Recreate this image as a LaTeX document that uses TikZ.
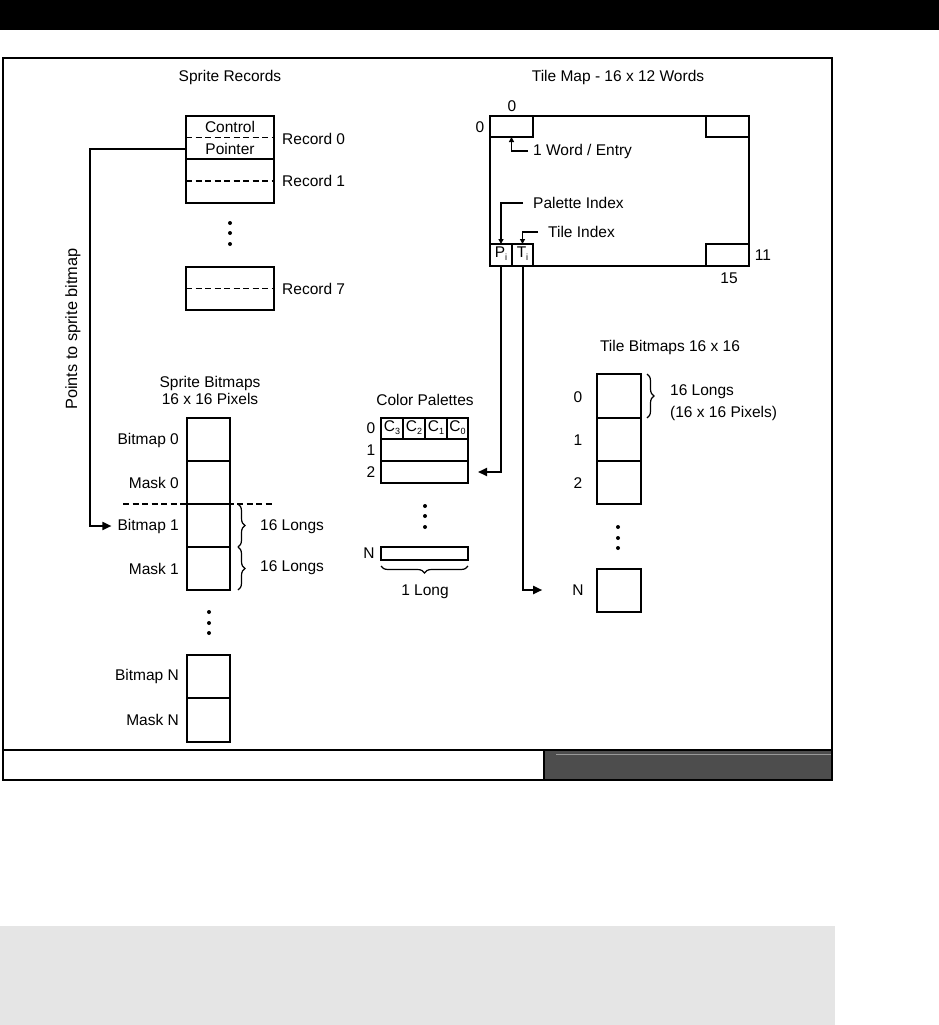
\documentclass[tikz,border=0pt]{standalone}
\usepackage{fontspec}
\setmainfont{Liberation Sans}
\usetikzlibrary{arrows.meta,decorations.pathreplacing,calc}
\definecolor{darkbox}{HTML}{4D4D4D}
\definecolor{lightline}{HTML}{9A9A9A}
\definecolor{bandgray}{HTML}{E5E5E5}
\newcommand\sbs[1]{\raisebox{-3pt}{\fontsize{9}{9}\selectfont #1}}
\newcommand\cellat[5]{\node[cellbox, minimum width=#4pt, minimum height=#5pt] (#1) at (#2,#3) {};}
\tikzset{
  lbl/.style={font=\fontsize{15.5}{17}\selectfont, inner sep=0pt},
  cellbox/.style={draw, line width=1.8pt, anchor=north west, inner sep=0pt, outer sep=0pt},
  dline/.style={line width=1.2pt, dash pattern=on 6pt off 3.5pt},
  conn/.style={line width=1.8pt, -{Triangle[length=9pt,width=8pt]}},
  sconn/.style={line width=1.6pt, -{Triangle[length=5pt,width=5pt]}},
  dotc/.style={circle, fill, inner sep=0pt, minimum size=4pt},
  bracestyle/.style={decorate, decoration={brace, amplitude=7pt}, line width=1.2pt},
}
\begin{document}
\begin{tikzpicture}[x=1pt,y=-1pt]
\useasboundingbox (0,0) rectangle (939,1025);
% page furniture
\fill[black] (0,0) rectangle (939,30);
\fill[bandgray] (0,926) rectangle (835,1025);
\fill[darkbox] (544,750) rectangle (832,780);
\draw[lightline, line width=1pt] (556,754) -- (832,754);
\draw[line width=2.2pt] (3,58) rectangle (832,780);
\draw[line width=2.2pt] (3,750) -- (832,750);
\draw[line width=1.8pt] (544,750) -- (544,780);

% ---------------- Sprite records
\node[lbl] (srtitle) at (230,77) {Sprite Records};
\cellat{rec0}{186}{116}{88}{43}
\cellat{rec1}{186}{159}{88}{44}
\cellat{rec7}{186}{267}{88}{43}
\draw[dline] (rec0.west) -- (rec0.east);
\draw[dline] (rec1.west) -- (rec1.east);
\draw[dline] (rec7.west) -- (rec7.east);
\node[lbl] (ctl) at (230,127) {Control};
\node[lbl] (ptr) at (230,149) {Pointer};
\node[lbl, anchor=west] (rl0) at (282,139) {Record 0};
\node[lbl, anchor=west] (rl1) at (282,181) {Record 1};
\node[lbl, anchor=west] (rl7) at (282,289) {Record 7};
\node[dotc] (srd1) at (230,223) {};
\node[dotc] (srd2) at (230,233) {};
\node[dotc] (srd3) at (230,244) {};

% ---------------- Sprite bitmaps
\node[lbl, align=center] (sbtitle) at (210,390) {Sprite Bitmaps\\16 x 16 Pixels};
\cellat{bm0}{187}{418}{43}{43}
\cellat{mk0}{187}{461}{43}{43}
\cellat{bm1}{187}{504}{43}{43}
\cellat{mk1}{187}{547}{43}{43}
\cellat{bmN}{187}{655}{43}{43}
\cellat{mkN}{187}{698}{43}{44}
\node[lbl, anchor=east] (lbm0) at (179,440) {Bitmap 0};
\node[lbl, anchor=east] (lmk0) at (179,483) {Mask 0};
\node[lbl, anchor=east] (lbm1) at (179,526) {Bitmap 1};
\node[lbl, anchor=east] (lmk1) at (179,569) {Mask 1};
\node[lbl, anchor=east] (lbmN) at (179,676) {Bitmap N};
\node[lbl, anchor=east] (lmkN) at (179,720) {Mask N};
\draw[dline] ([xshift=-64pt]bm1.north west) -- ([xshift=43pt]bm1.north east);
\draw[bracestyle] ([xshift=8pt]bm1.north east) -- ([xshift=8pt]bm1.south east);
\draw[bracestyle] ([xshift=8pt]mk1.north east) -- ([xshift=8pt]mk1.south east);
\node[lbl, anchor=west] (lg1) at (260,527) {16 Longs};
\node[lbl, anchor=west] (lg2) at (260,568) {16 Longs};
\node[dotc] (sbd1) at (209,612) {};
\node[dotc] (sbd2) at (209,623) {};
\node[dotc] (sbd3) at (209,633) {};

% pointer connector
\node[lbl, font=\fontsize{16.3}{18}\selectfont, rotate=90] (pts) at (73,329) {Points to sprite bitmap};
\draw[conn] (rec0.west |- ptr) -- ++(-96,0) |- ([xshift=-6pt]lbm1.west);

% ---------------- Tile map
\node[lbl] (tmtitle) at (618,77) {Tile Map - 16 x 12 Words};
\cellat{tmap}{490}{116}{259}{150}
\cellat{tl}{490}{116}{43}{21}
\cellat{tr}{706}{116}{43}{21}
\cellat{pc}{490}{244}{22}{22}
\cellat{tc}{512}{244}{21}{22}
\cellat{br}{706}{244}{43}{22}
\node[lbl] (pitxt) at ([yshift=1pt]pc.center) {P\sbs{i}};
\node[lbl] (titxt) at ([yshift=1pt]tc.center) {T\sbs{i}};
\node[lbl] (c0top) at (512,106) {0};
\node[lbl] (r0left) at (480,127) {0};
\node[lbl] (r11) at (763,255) {11};
\node[lbl] (c15) at (729,278) {15};
\node[lbl, anchor=west] (wlbl) at (533,151) {1 Word / Entry};
\node[lbl, anchor=west] (plbl) at (533,203) {Palette Index};
\node[lbl, anchor=west] (tlbl) at (548,232) {Tile Index};
\draw[sconn] ([xshift=-5pt]wlbl.west) -| (tl.south);
\draw[sconn] ([xshift=-10pt]plbl.west) -| (pc.north);
\draw[sconn] ([xshift=-10pt]tlbl.west) -| (tc.north);

% ---------------- Color palettes
\node[lbl] (cptitle) at (425,400) {Color Palettes};
\cellat{c3}{381}{418}{22}{21}
\cellat{c2}{403}{418}{22}{21}
\cellat{c1}{425}{418}{22}{21}
\cellat{c0}{447}{418}{21}{21}
\cellat{pal1}{381}{439}{87}{22}
\cellat{pal2}{381}{461}{87}{22}
\cellat{palN}{381}{547}{87}{13}
\node[lbl] (c3t) at ([yshift=1pt]c3.center) {C\sbs{3}};
\node[lbl] (c2t) at ([yshift=1pt]c2.center) {C\sbs{2}};
\node[lbl] (c1t) at ([yshift=1pt]c1.center) {C\sbs{1}};
\node[lbl] (c0t) at ([yshift=1pt]c0.center) {C\sbs{0}};
\node[lbl] (p0l) at (371,428) {0};
\node[lbl] (p1l) at (371,450) {1};
\node[lbl] (p2l) at (371,472) {2};
\node[lbl] (pNl) at (369,553) {N};
\node[dotc] (cpd1) at (425,506) {};
\node[dotc] (cpd2) at (425,516) {};
\node[dotc] (cpd3) at (425,527) {};
\draw[bracestyle] ([yshift=-6pt]palN.south east) -- ([yshift=-6pt]palN.south west);
\node[lbl] (onelong) at (425,592) {1 Long};

% ---------------- Tile bitmaps
\node[lbl] (tbtitle) at (670,347) {Tile Bitmaps 16 x 16};
\cellat{tb0}{597}{374}{44}{44}
\cellat{tb1}{597}{418}{44}{43}
\cellat{tb2}{597}{461}{44}{43}
\cellat{tbN}{597}{569}{44}{43}
\node[lbl] (t0l) at (578,397) {0};
\node[lbl] (t1l) at (578,440) {1};
\node[lbl] (t2l) at (578,483) {2};
\node[lbl] (tNl) at (578,590) {N};
\node[dotc] (tbd1) at (618,527) {};
\node[dotc] (tbd2) at (618,538) {};
\node[dotc] (tbd3) at (618,548) {};
\draw[bracestyle] ([xshift=6pt]tb0.north east) -- ([xshift=6pt]tb0.south east);
\node[lbl, anchor=west] (tbl1) at (670,392) {16 Longs};
\node[lbl, anchor=west] (tbl2) at (670,413) {(16 x 16 Pixels)};

% connectors from tile map entry
\draw[conn] (pc.south) |- ([xshift=10pt]pal2.east);
\draw[conn] ([xshift=0.5pt]tc.south) |- ([xshift=-30pt]tNl.west);
\end{tikzpicture}
\end{document}
